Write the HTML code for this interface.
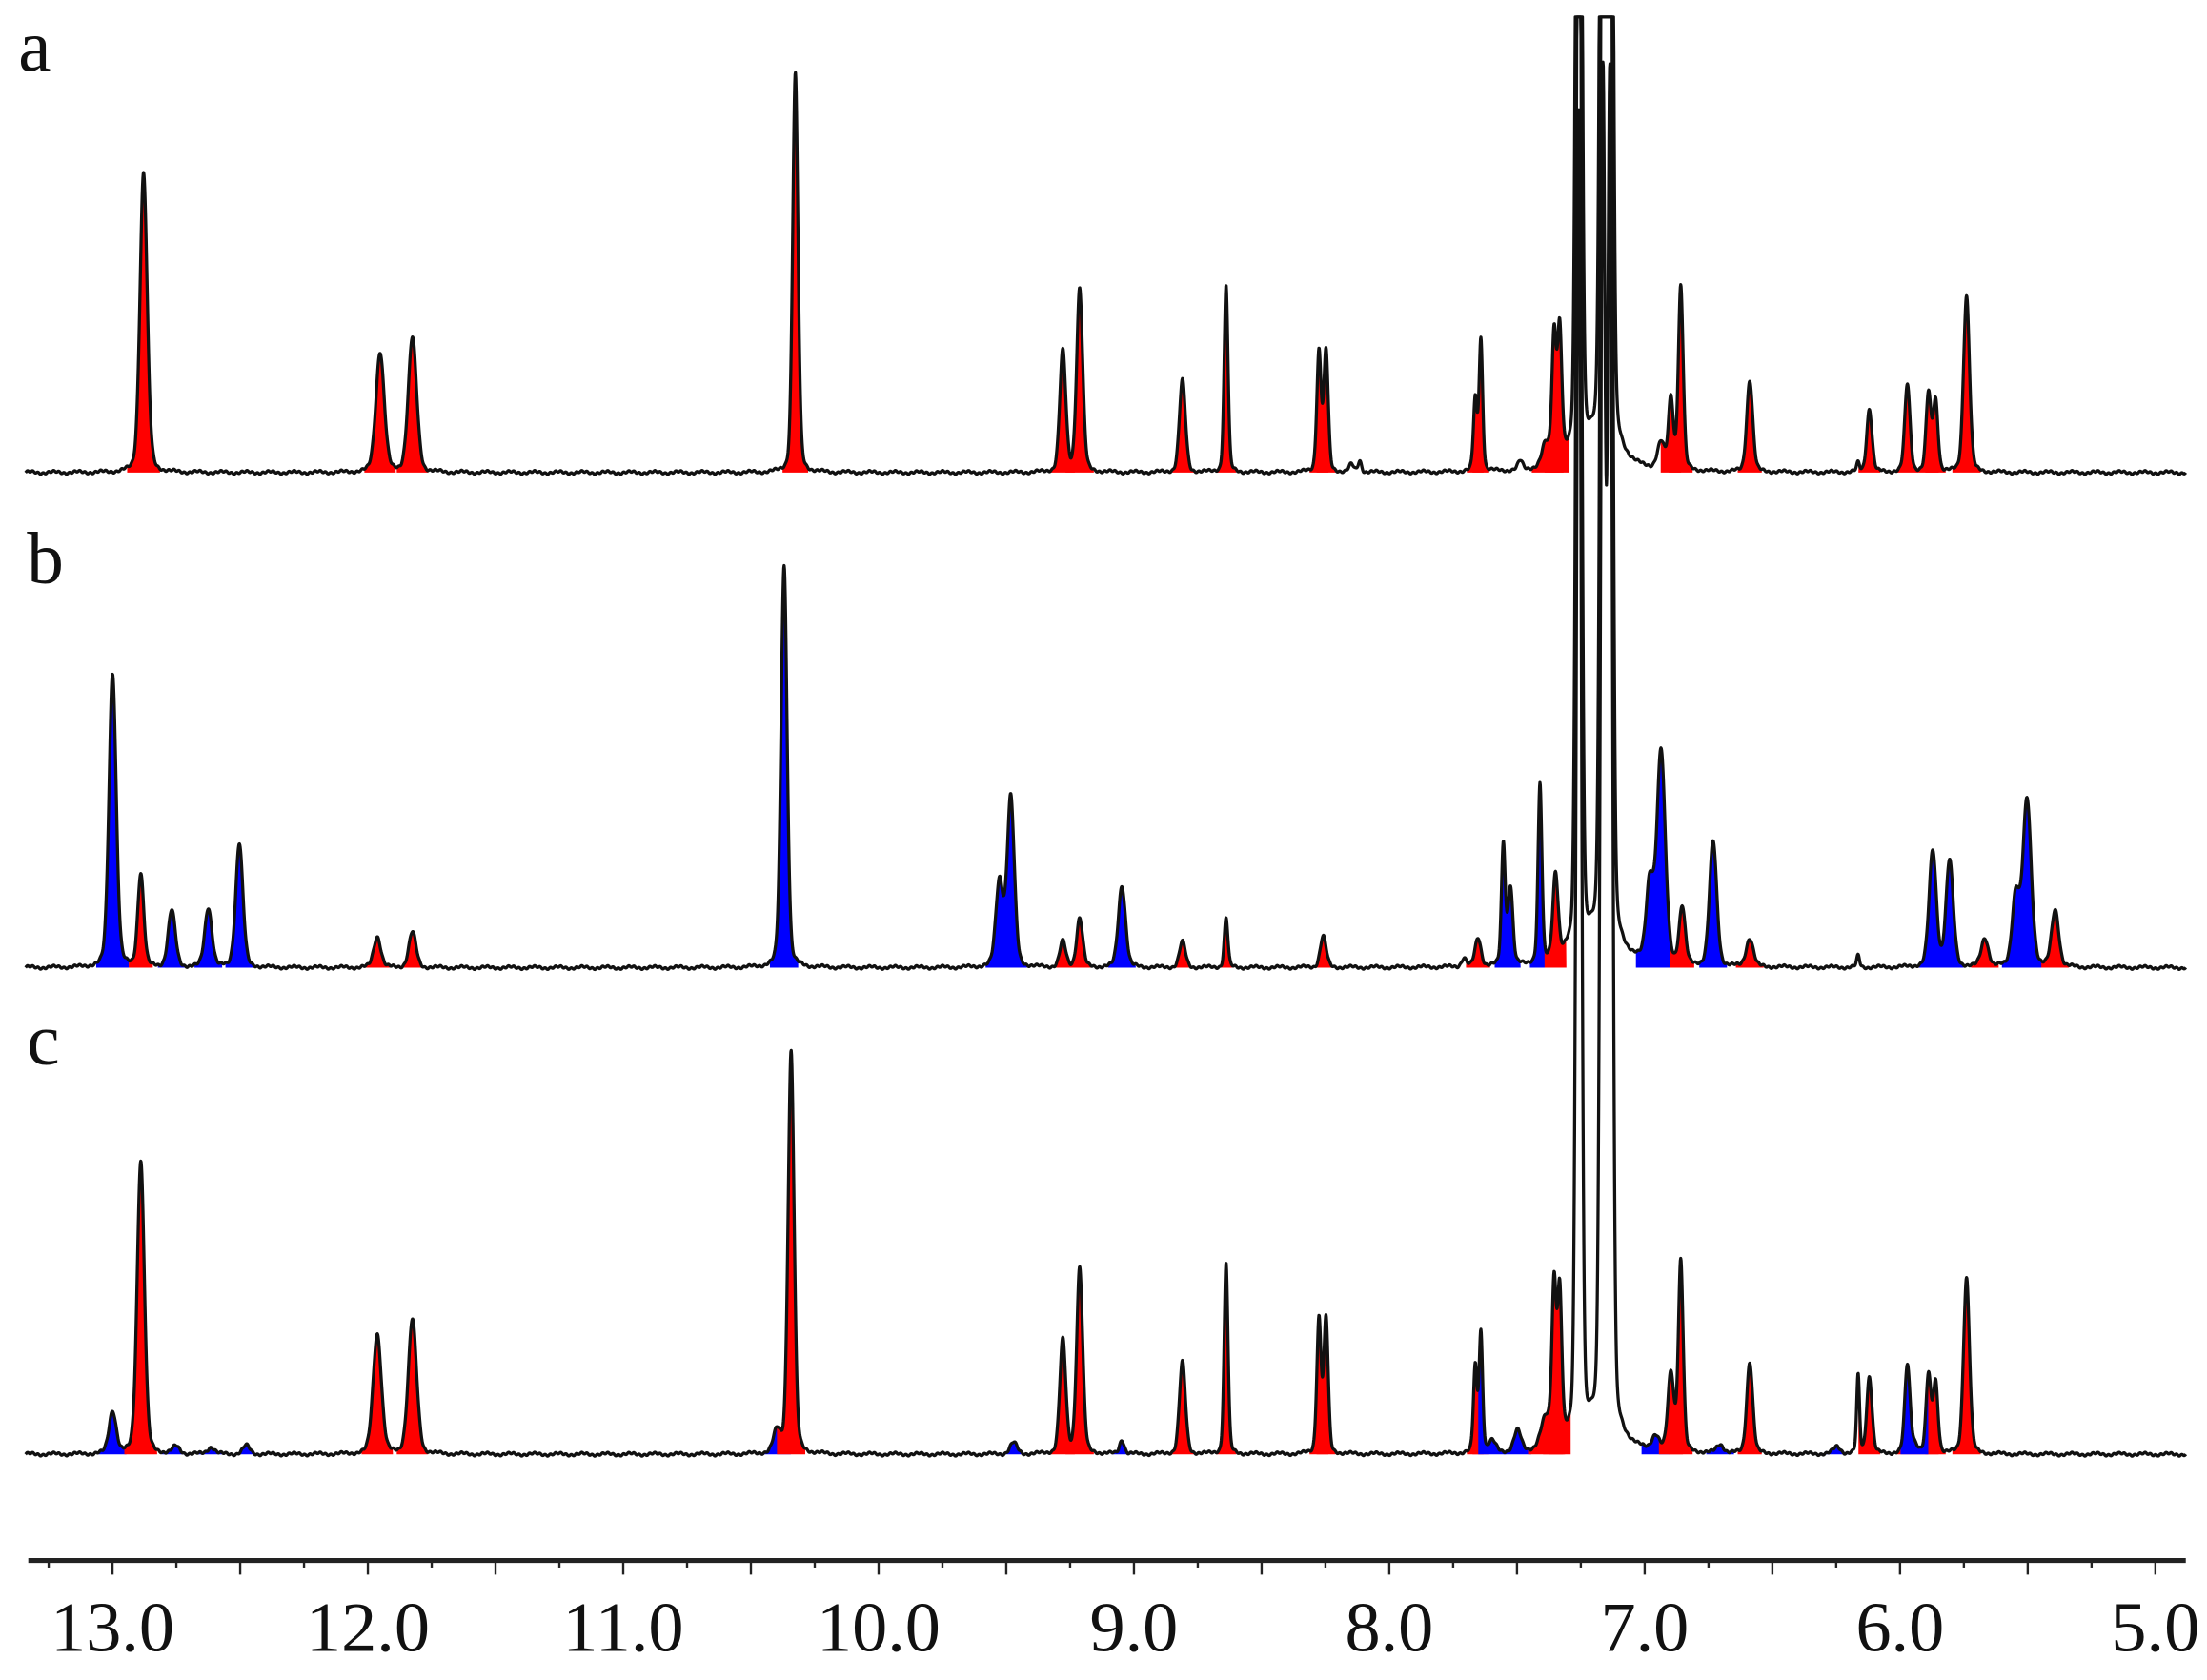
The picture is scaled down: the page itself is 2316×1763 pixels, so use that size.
<!DOCTYPE html>
<html><head><meta charset="utf-8">
<style>html,body{margin:0;padding:0;background:#fff;width:2316px;height:1763px;overflow:hidden}svg{display:block}</style>
</head><body>
<svg id="s" width="2316" height="1763" viewBox="0 0 1560 1187.5" xmlns="http://www.w3.org/2000/svg">
<rect width="1560" height="1187.5" fill="#fff"/>
<g id="fills"></g><g id="lines"></g>
<g font-family="Liberation Serif, serif" fill="#111">
<text x="13" y="50" font-size="52">a</text>
<text x="19" y="412" font-size="52">b</text>
<text x="19" y="752" font-size="52">c</text>
</g>
<g id="axis"></g>
<g font-family="Liberation Serif, serif" font-size="50" fill="#111" text-anchor="middle">
<text x="79.5" y="1167">13.0</text><text x="260" y="1167">12.0</text><text x="440.5" y="1167">11.0</text>
<text x="621" y="1167">10.0</text><text x="801.5" y="1167">9.0</text><text x="982" y="1167">8.0</text>
<text x="1162.5" y="1167">7.0</text><text x="1343" y="1167">6.0</text><text x="1523.5" y="1167">5.0</text>
</g>
</svg>
<script>
var NS="http://www.w3.org/2000/svg";
function el(p,t,a){var e=document.createElementNS(NS,t);for(var k in a)e.setAttribute(k,a[k]);p.appendChild(e);return e;}
var R="#ff0000",B="#0000ff";
var SOL=[[1116,900,2.4,null],[1133,900,2.4,null],[1138,900,2.4,null]];
var spectra=[
 {base:334,x0:18,x1:1545,peaks:[
  [102,212,3,R],[270,85,3.5,R],[293,95,3.5,R],[565,282,2.2,R],
  [755,85,2.5,R],[767,130,2.5,R],[840,65,2.5,R],[871,132,1.6,R],
  [937,85,1.8,R],[942,85,1.8,R],[1048,50,1.5,R],[1052,93,1.5,R],[1104,90,1.8,R],[1108,92,1.8,R],[1098,15,3,R],[1080,6,2,null],
  [1180,18,3,null],[1187,50,2,R],[1194,130,2,R],[1243,65,2.5,R],[1320,6,1.2,null],
  [1328,45,2.2,R],[1355,62,2.2,R],[1370,55,2,R],[1375,50,2,R],[1397,125,2.5,R],[960,5,2,null],[966,8,1.5,null]
 ]},
 {base:684,x0:18,x1:1545,peaks:[
  [80,208,3,B],[100,66,2.5,R],[122,40,3,B],[148,42,3,B],[170,88,3,B],[268,22,3,R],[293,25,3,R],
  [557,285,2.5,B],[710,60,3,B],[718,120,3,B],[755,18,2.5,R],[767,35,2.5,R],[797,58,3,B],
  [840,18,2.5,R],[871,35,1.5,R],[940,22,2.5,R],[1050,20,2.5,R],[1068,86,1.6,B],[1073,55,2,B],
  [1094,126,1.6,B],[1105,60,2.2,R],[1040,6,2,null],
  [1172,55,3,B],[1180,150,3.5,B],[1195,40,2.5,R],[1217,88,3,B],[1243,20,3,R],[1320,8,1.2,null],
  [1373,82,3,B],[1385,75,3,B],[1410,20,3,R],[1440,118,3.5,B],[1432,50,3,B],[1460,40,3,R]
 ]},
 {base:1028,x0:18,x1:1545,peaks:[
  [80,30,3,B],[100,208,3,R],[125,5,3,B],[150,5,3,B],[175,6,3,B],[268,85,3.5,R],[293,95,3.5,R],
  [552,15,3,B],[562,285,2.5,R],[720,8,3,B],[755,80,2.5,R],[767,132,2.5,R],[797,10,2,B],
  [840,65,2.5,R],[871,135,1.6,R],[937,95,1.8,R],[942,95,1.8,R],[1048,60,1.5,R],[1052,85,1.5,R],
  [1060,8,3,B],[1078,15,3,B],[1098,20,4,R],[1104,110,1.8,R],[1108,105,1.8,R],
  [1176,10,3,B],[1187,55,2.5,R],[1194,135,2,R],[1222,6,3,B],[1243,65,2.5,R],[1320,55,1.2,null],
  [1305,5,3,B],[1328,55,2.2,R],[1355,62,2.2,R],[1370,55,2,R],[1375,50,2,R],[1397,125,2.5,R],[1360,6,3,B]
 ]}
];
var fills=document.getElementById("fills"),lines=document.getElementById("lines");
spectra.forEach(function(sp){
 sp.peaks.forEach(function(p){p[0]=p[0]*0.995;});
 sp.peaks=sp.peaks.concat(SOL);
 function f(x){var s=0;sp.peaks.forEach(function(p){var d=(x-p[0])/p[2];
   if(p[1]>500){s+=p[1]*Math.exp(-d*d)+42/(1+(x-p[0])*(x-p[0])/40);}
   else s+=p[1]*(0.75*Math.exp(-d*d*0.69)+0.25/(1+d*d));});
  return s+Math.sin(x*1.7)*0.6+Math.sin(x*0.37)*0.8;}
 var d="";
 for(var x=sp.x0;x<=sp.x1;x+=0.25){var y=Math.max(12,sp.base-f(x));d+=(d?"L":"M")+x.toFixed(2)+" "+y.toFixed(2);}
 sp.peaks.forEach(function(p){if(!p[3])return;var w=p[2]*(p[1]>100?3.2:2.6)+2;
  var a=p[0]-w,b=p[0]+w,pd="M"+a+" "+sp.base;
  for(var x=a;x<=b;x+=0.25){pd+="L"+x.toFixed(2)+" "+Math.max(12,sp.base-f(x)).toFixed(2);}
  pd+="L"+b+" "+sp.base+"Z";el(fills,"path",{d:pd,fill:p[3]});});
 el(lines,"path",{d:d,fill:"none",stroke:"#111","stroke-width":2.2,"stroke-linejoin":"round"});
});
var ax=document.getElementById("axis");
el(ax,"line",{x1:20,y1:1103,x2:1545,y2:1103,stroke:"#222","stroke-width":3.5});
for(var i=0;i<=34;i++){var x=34.4+i*45.125;if(x>1545)break;var major=(i%2==1);
 el(ax,"line",{x1:x,y1:1103,x2:x,y2:major?1113:1108,stroke:"#222","stroke-width":1.6});}
</script>
</body></html>
